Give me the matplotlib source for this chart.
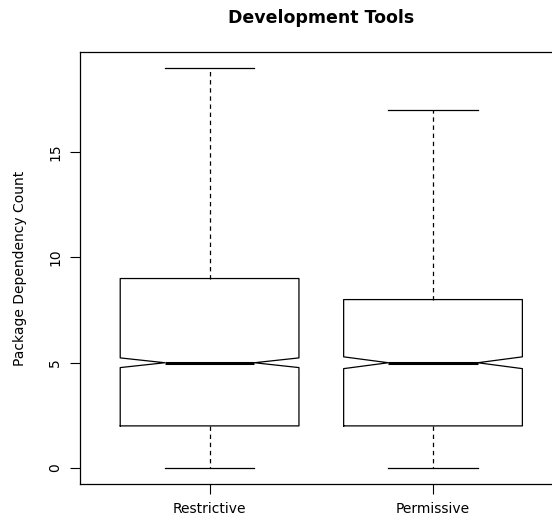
import matplotlib
matplotlib.use("Agg")
import matplotlib.pyplot as plt

categories = ["Restrictive", "Permissive"]
whisker_low = [0, 0]
q1 = [2, 2]
median = [5, 5]
q3 = [9, 8]
whisker_high = [19, 17]
notch_low = [4.77, 4.72]
notch_high = [5.23, 5.28]

stats = []
for i, name in enumerate(categories):
    stats.append(dict(label=name, whislo=whisker_low[i], q1=q1[i], med=median[i],
                      q3=q3[i], whishi=whisker_high[i], cilo=notch_low[i],
                      cihi=notch_high[i], fliers=[]))

fig = plt.figure(figsize=(5.52, 5.21), dpi=100)
ax = fig.add_axes([80/552, 37/521, (562.6-80)/552, 432/521])

ax.bxp(stats, positions=[1, 2], widths=0.8, capwidths=0.4, shownotches=True,
       showfliers=False,
       boxprops=dict(color="black", linewidth=0.9),
       medianprops=dict(color="black", linewidth=2.2),
       whiskerprops=dict(color="black", linewidth=0.9, linestyle=(0, (3.5, 3))),
       capprops=dict(color="black", linewidth=0.9))

ax.set_xlim(0.42, 2.58)
ax.set_ylim(-0.76, 19.76)
ax.set_yticks([0, 5, 10, 15])
ax.set_yticklabels(["0", "5", "10", "15"], rotation=90, va="center")
ax.set_xticks([1, 2])
ax.set_xticklabels(categories)
ax.tick_params(axis="both", direction="out", length=7, width=0.8, labelsize=10, pad=6)
for s in ax.spines.values():
    s.set_linewidth(0.9)
ax.set_ylabel("Package Dependency Count", fontsize=10, labelpad=15)
fig.text(321/552, 1 - 18/521, "Development Tools", ha="center", va="center",
         fontsize=12.5, fontweight="bold")

fig.savefig("out.png", dpi=100)
